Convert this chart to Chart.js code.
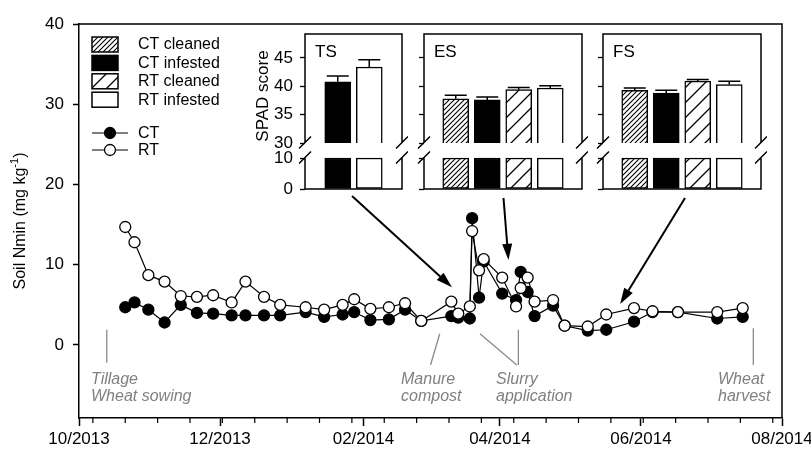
<!DOCTYPE html>
<html>
<head>
<meta charset="utf-8">
<title>Soil Nmin and SPAD</title>
<script src="https://cdn.jsdelivr.net/npm/chart.js@4.4.1/dist/chart.umd.min.js"></script>
<style>
  html, body { margin: 0; padding: 0; background: #fff; }
  #wrap { position: relative; width: 811px; height: 451px; overflow: hidden; }
  #wrap canvas { position: absolute; }
</style>
</head>
<body>
<div id="wrap">
  <canvas id="main" width="811" height="451" style="left:0;top:0"></canvas>
  <canvas id="ts"></canvas>
  <canvas id="es"></canvas>
  <canvas id="fs"></canvas>
</div>
<script>
// soil Nmin (mg/kg)
const sampleDates = [
  '2013-10-21', '2013-10-25', '2013-10-31', '2013-11-07', '2013-11-14', '2013-11-21',
  '2013-11-28', '2013-12-06', '2013-12-12', '2013-12-20', '2013-12-27', '2014-01-07',
  '2014-01-15', '2014-01-23', '2014-01-28', '2014-02-04', '2014-02-12', '2014-02-19',
  '2014-02-26', '2014-03-11', '2014-03-14', '2014-03-19', '2014-03-20', '2014-03-23',
  '2014-03-25', '2014-04-02', '2014-04-08', '2014-04-10', '2014-04-13', '2014-04-16',
  '2014-04-24', '2014-04-29', '2014-05-09', '2014-05-17', '2014-05-29', '2014-06-06',
  '2014-06-17', '2014-07-04', '2014-07-15'
];
const ctNmin = [
  4.7, 5.3, 4.4, 2.8, 5.0, 4.0, 3.9, 3.7, 3.7, 3.7, 3.7, 4.1,
  3.5, 3.8, 4.1, 3.1, 3.2, 4.4, 3.0, 3.6, 3.4, 3.3, 15.8, 5.9,
  10.4, 6.4, 5.6, 9.1, 6.6, 3.6, 4.9, 2.4, 1.8, 1.9, 2.9, 4.1,
  4.1, 3.3, 3.5
];
const rtNmin = [
  14.7, 12.8, 8.7, 7.9, 6.1, 6.0, 6.2, 5.3, 7.9, 6.0, 5.0, 4.7,
  4.4, 5.0, 5.7, 4.5, 4.7, 5.2, 3.0, 5.4, 3.9, 4.8, 14.2, 9.3,
  10.7, 8.4, 4.8, 7.1, 8.4, 5.4, 5.6, 2.4, 2.3, 3.8, 4.6, 4.2,
  4.1, 4.1, 4.6
];

const xTickDates = ['2013-10-01', '2013-12-01', '2014-02-01', '2014-04-01', '2014-06-01', '2014-08-01'];
const xTickLabels = ['10/2013', '12/2013', '02/2014', '04/2014', '06/2014', '08/2014'];
const yTickValues = [0, 10, 20, 30, 40];

// SPAD insets
const treatments = ['CT cleaned', 'CT infested', 'RT cleaned', 'RT infested'];
const tsTreatments = ['CT infested', 'RT infested'];
const tsSpad = [40.8, 43.4];
const tsSe = [1.0, 1.3];
const esSpad = [37.8, 37.6, 39.4, 39.7];
const esSe = [0.6, 0.5, 0.4, 0.4];
const fsSpad = [39.3, 38.8, 40.9, 40.3];
const fsSe = [0.4, 0.5, 0.3, 0.6];
const spadTicksUpper = [30, 35, 40, 45];
const spadTicksLower = [0, 10];
const spadBreakValue = 10;

const eventLabels = [
  ['Tillage', 'Wheat sowing'],
  ['Manure', 'compost'],
  ['Slurry', 'application'],
  ['Wheat', 'harvest']
];

const FONT = "'Liberation Sans', Arial, sans-serif";
const DAY0 = Date.UTC(2013, 9, 1);
const dayOf = s => (Date.parse(s) - DAY0) / 864e5;

function hatch(ctx, size, lw) {
  const c = document.createElement('canvas');
  c.width = c.height = size;
  const g = c.getContext('2d');
  g.fillStyle = '#fff';
  g.fillRect(0, 0, size, size);
  g.strokeStyle = '#000';
  g.lineWidth = lw;
  g.beginPath();
  g.moveTo(-1, size + 1); g.lineTo(size + 1, -1);
  g.moveTo(-2, 2); g.lineTo(2, -2);
  g.moveTo(size - 2, size + 2); g.lineTo(size + 2, size - 2);
  g.stroke();
  return ctx.createPattern(c, 'repeat');
}

function fillFor(ctx, name) {
  if (name === 'CT cleaned') return hatch(ctx, 5, 1.1);
  if (name === 'CT infested') return '#000';
  if (name === 'RT cleaned') return hatch(ctx, 15, 1.3);
  return '#fff';
}

function arrow(ctx, x1, y1, x2, y2) {
  const a = Math.atan2(y2 - y1, x2 - x1), L = 16, W = 5;
  const bx = x2 - L * Math.cos(a), by = y2 - L * Math.sin(a);
  ctx.beginPath();
  ctx.moveTo(x1, y1);
  ctx.lineTo(bx, by);
  ctx.stroke();
  ctx.beginPath();
  ctx.moveTo(x2, y2);
  ctx.lineTo(bx + W * Math.sin(a), by - W * Math.cos(a));
  ctx.lineTo(bx - W * Math.sin(a), by + W * Math.cos(a));
  ctx.closePath();
  ctx.fill();
}

// ---------- main chart ----------
const mainCanvas = document.getElementById('main');

const mainDecor = {
  id: 'mainDecor',
  beforeDraw(chart) {
    const {ctx} = chart;
    ctx.save();
    ctx.fillStyle = '#fff';
    ctx.fillRect(0, 0, chart.width, chart.height);
    ctx.restore();
  },
  afterDraw(chart) {
    const {ctx, chartArea: a} = chart;
    const x = chart.scales.x, y = chart.scales.y;
    ctx.save();
    ctx.strokeStyle = '#000';
    ctx.lineWidth = 1.5;
    ctx.beginPath();
    ctx.moveTo(a.left, a.top); ctx.lineTo(a.right, a.top); ctx.lineTo(a.right, a.bottom);
    ctx.stroke();

    // minor ticks every two weeks
    ctx.lineWidth = 1.2;
    ctx.beginPath();
    for (let d = 6; d < 304; d += 14) {
      const px = x.getPixelForValue(d);
      ctx.moveTo(px, a.bottom); ctx.lineTo(px, a.bottom + 5);
    }
    ctx.stroke();

    // y title with superscript
    ctx.save();
    ctx.translate(21, (a.top + a.bottom) / 2);
    ctx.rotate(-Math.PI / 2);
    ctx.fillStyle = '#000';
    ctx.textBaseline = 'middle';
    ctx.font = `16px ${FONT}`;
    const t1 = 'Soil Nmin (mg kg', t2 = ')';
    const w1 = ctx.measureText(t1).width, w2 = ctx.measureText(t2).width;
    ctx.font = `11px ${FONT}`;
    const ws = ctx.measureText('-1').width;
    let sx = -(w1 + ws + w2) / 2;
    ctx.font = `16px ${FONT}`;
    ctx.fillText(t1, sx, 0);
    ctx.font = `11px ${FONT}`;
    ctx.fillText('-1', sx + w1, -6);
    ctx.font = `16px ${FONT}`;
    ctx.fillText(t2, sx + w1 + ws, 0);
    ctx.restore();

    // legend: bar patches
    ctx.font = `16px ${FONT}`;
    ctx.textBaseline = 'middle';
    ctx.fillStyle = '#000';
    treatments.forEach((t, i) => {
      const py = 37 + i * 18.4;
      ctx.fillStyle = fillFor(ctx, t);
      ctx.fillRect(92, py, 26, 15);
      ctx.lineWidth = 1.5;
      ctx.strokeRect(92, py, 26, 15);
      ctx.fillStyle = '#000';
      ctx.fillText(t, 138, py + 8);
    });
    // legend: line series
    chart.data.datasets.forEach((ds, i) => {
      const py = 133 + i * 17;
      ctx.lineWidth = 1.2;
      ctx.beginPath();
      ctx.moveTo(92, py); ctx.lineTo(128, py);
      ctx.stroke();
      ctx.beginPath();
      ctx.arc(110, py, 5.5, 0, Math.PI * 2);
      ctx.fillStyle = ds.pointBackgroundColor;
      ctx.fill();
      ctx.lineWidth = 1.3;
      ctx.stroke();
      ctx.fillStyle = '#000';
      ctx.fillText(ds.label, 138, py + 1);
    });

    // field events
    const P = (d, v) => [x.getPixelForValue(d), y.getPixelForValue(v)];
    const eventLines = [
      [[12, 1.9], [12, -2.2]],
      [[156, 1.4], [152, -2.5]],
      [[173.4, 1.4], [189.3, -2.5]],
      [[190, 1.9], [190, -2.5]],
      [[291.6, 2.1], [291.6, -2.5]]
    ];
    ctx.strokeStyle = '#8a8a8a';
    ctx.lineWidth = 1.3;
    eventLines.forEach(([p, q]) => {
      const [x1, y1] = P(...p), [x2, y2] = P(...q);
      ctx.beginPath(); ctx.moveTo(x1, y1); ctx.lineTo(x2, y2); ctx.stroke();
    });
    const eventX = [91, 401, 496, 718];
    ctx.fillStyle = '#808080';
    ctx.font = `italic 16px ${FONT}`;
    ctx.textBaseline = 'alphabetic';
    eventLabels.forEach((lines, i) => {
      lines.forEach((s, j) => ctx.fillText(s, eventX[i], 384 + j * 17));
    });

    // arrows from the SPAD insets to the sampling dates
    ctx.strokeStyle = '#000';
    ctx.fillStyle = '#000';
    ctx.lineWidth = 2;
    const arrows = [
      [[352, 196], [161.3, 7.2]],
      [[503.5, 198], [185.7, 10.6]],
      [[685, 198], [234, 5.1]]
    ];
    arrows.forEach(([t, tip]) => {
      const [tx, ty] = P(...tip);
      arrow(ctx, t[0], t[1], tx, ty);
    });
    ctx.restore();
  }
};

const tickFont = {size: 17, family: FONT};

new Chart(mainCanvas, {
  type: 'scatter',
  data: {
    datasets: [
      {
        label: 'CT',
        data: sampleDates.map((d, i) => ({x: dayOf(d), y: ctNmin[i]})),
        showLine: true,
        borderColor: '#000',
        borderWidth: 1.2,
        pointRadius: 5.5,
        pointBackgroundColor: '#000',
        pointBorderColor: '#000',
        pointBorderWidth: 1.3,
        order: 1
      },
      {
        label: 'RT',
        data: sampleDates.map((d, i) => ({x: dayOf(d), y: rtNmin[i]})),
        showLine: true,
        borderColor: '#000',
        borderWidth: 1.2,
        pointRadius: 5.5,
        pointBackgroundColor: '#fff',
        pointBorderColor: '#000',
        pointBorderWidth: 1.3,
        order: 0
      }
    ]
  },
  options: {
    responsive: false,
    animation: false,
    events: [],
    layout: {padding: {top: 24, right: 29, left: 0, bottom: 0}},
    plugins: {legend: {display: false}, tooltip: {enabled: false}},
    scales: {
      x: {
        type: 'linear',
        min: 0,
        max: dayOf('2014-08-01'),
        afterBuildTicks: s => { s.ticks = xTickDates.map(d => ({value: dayOf(d)})); },
        afterFit: s => { s.height = 33; s.paddingLeft = 0; s.paddingRight = 0; },
        ticks: {
          callback: (v, i) => xTickLabels[i],
          font: tickFont, color: '#000', maxRotation: 0, autoSkip: false, padding: 3
        },
        grid: {drawOnChartArea: false, drawTicks: true, tickLength: 8, tickColor: '#000', tickWidth: 1.5},
        border: {display: true, color: '#000', width: 1.5}
      },
      y: {
        min: -9.1,
        max: 40,
        afterBuildTicks: s => { s.ticks = yTickValues.map(v => ({value: v})); },
        afterFit: s => { s.width = 79; s.paddingTop = 0; s.paddingBottom = 0; },
        ticks: {font: tickFont, color: '#000', padding: 9, autoSkip: false},
        grid: {drawOnChartArea: false, drawTicks: true, tickLength: 6, tickColor: '#000', tickWidth: 1.5},
        border: {display: true, color: '#000', width: 1.5}
      }
    }
  },
  plugins: [mainDecor]
});

// ---------- SPAD insets ----------
const INSET_TOP = 34, INSET_BOTTOM = 189, INSET_BREAK = 143;
const UPPER_PX_PER_UNIT = 5.67, LOWER_PX_PER_UNIT = 3.1, BAR_SPACING = 31.5;

function makeInset(id, left, right, names, means, ses, title, withLabels) {
  const cv = document.getElementById(id);
  const pad = 6, leftSpace = withLabels ? 65 : 8;
  cv.width = right - left + leftSpace + pad;
  cv.height = INSET_BOTTOM - INSET_TOP + 2 * pad;
  cv.style.left = (left - leftSpace) + 'px';
  cv.style.top = (INSET_TOP - pad) + 'px';
  const ctx = cv.getContext('2d');
  const fills = names.map(n => fillFor(ctx, n));
  const upperH = INSET_BREAK - INSET_TOP, lowerH = INSET_BOTTOM - INSET_BREAK;
  const mid = (names.length - 1) / 2, half = (right - left) / BAR_SPACING / 2;

  const yAxis = (vals, min, max, weight) => ({
    position: 'left',
    stack: 'spad',
    stackWeight: weight,
    min, max,
    afterBuildTicks: s => { s.ticks = vals.map(v => ({value: v})); },
    afterFit: s => { s.width = leftSpace; s.paddingTop = 0; s.paddingBottom = 0; },
    ticks: {display: withLabels, font: tickFont, color: '#000', padding: 7, autoSkip: false},
    grid: {drawOnChartArea: false, drawTicks: true, tickLength: 5, tickColor: '#000', tickWidth: 1.3},
    border: {display: false}
  });

  const bars = {
    barThickness: 26,
    grouped: false,
    backgroundColor: fills,
    borderColor: '#000',
    borderWidth: 1.5,
    borderSkipped: false
  };

  const decor = {
    id: 'insetDecor',
    beforeDraw(chart) {
      const a = chart.chartArea;
      chart.ctx.save();
      chart.ctx.fillStyle = '#fff';
      chart.ctx.fillRect(a.left, a.top, a.right - a.left, a.bottom - a.top);
      chart.ctx.restore();
    },
    afterDatasetsDraw(chart) {
      const c = chart.ctx, yS = chart.scales.yTop;
      const meta = chart.getDatasetMeta(1);
      c.save();
      c.strokeStyle = '#000';
      c.lineWidth = 1.5;
      c.beginPath();
      meta.data.forEach((bar, i) => {
        const ye = yS.getPixelForValue(means[i] + ses[i]);
        c.moveTo(bar.x, bar.y); c.lineTo(bar.x, ye);
        c.moveTo(bar.x - 11, ye); c.lineTo(bar.x + 11, ye);
      });
      c.stroke();
      c.restore();
    },
    afterDraw(chart) {
      const c = chart.ctx, a = chart.chartArea;
      const b1 = chart.scales.yTop.bottom - 0.5, b2 = b1 + 15;
      c.save();
      c.strokeStyle = '#000';
      c.lineWidth = 1.5;
      c.beginPath();
      c.moveTo(a.left, b1); c.lineTo(a.left, a.top); c.lineTo(a.right, a.top); c.lineTo(a.right, b1);
      c.moveTo(a.left, b2); c.lineTo(a.left, a.bottom); c.lineTo(a.right, a.bottom); c.lineTo(a.right, b2);
      [a.left, a.right].forEach(ex => {
        [b1, b2].forEach(ey => { c.moveTo(ex - 6, ey + 6); c.lineTo(ex + 6, ey - 6); });
      });
      c.stroke();
      c.fillStyle = '#000';
      c.font = `17px ${FONT}`;
      c.textBaseline = 'alphabetic';
      c.fillText(title, a.left + 10, a.top + 23);
      if (withLabels) {
        c.translate(23, (INSET_TOP + 158) / 2 - INSET_TOP + pad);
        c.rotate(-Math.PI / 2);
        c.textAlign = 'center';
        c.textBaseline = 'middle';
        c.fillText('SPAD score', 0, 0);
      }
      c.restore();
    }
  };

  new Chart(cv, {
    type: 'bar',
    data: {
      labels: names,
      datasets: [
        Object.assign({label: title + ' lower', yAxisID: 'yBot',
          data: names.map((n, i) => ({x: i, y: spadBreakValue}))}, bars),
        Object.assign({label: title, yAxisID: 'yTop',
          data: names.map((n, i) => ({x: i, y: means[i]}))}, bars)
      ]
    },
    options: {
      responsive: false,
      animation: false,
      events: [],
      layout: {padding: {top: pad, right: pad, bottom: pad, left: 0}},
      plugins: {legend: {display: false}, tooltip: {enabled: false}},
      scales: {
        x: {type: 'linear', min: mid - half, max: mid + half, offset: false, display: false},
        yBot: yAxis(spadTicksLower, 0, lowerH / LOWER_PX_PER_UNIT, lowerH),
        yTop: yAxis(spadTicksUpper, 30, 30 + upperH / UPPER_PX_PER_UNIT, upperH)
      }
    },
    plugins: [decor]
  });
}

makeInset('ts', 305, 402, tsTreatments, tsSpad, tsSe, 'TS', true);
makeInset('es', 424, 582, treatments, esSpad, esSe, 'ES', false);
makeInset('fs', 603, 761, treatments, fsSpad, fsSe, 'FS', false);
</script>
</body>
</html>
